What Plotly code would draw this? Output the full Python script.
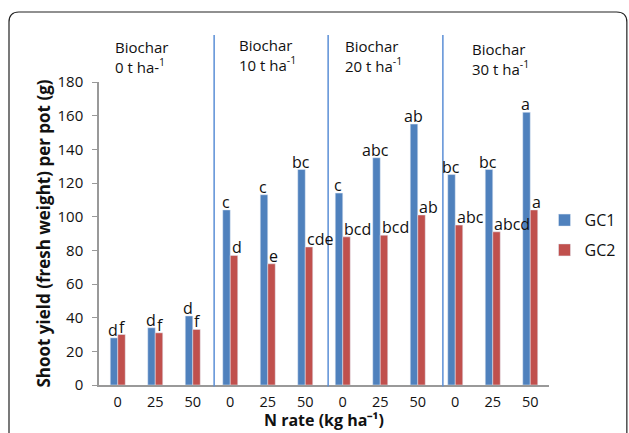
import plotly.graph_objects as go

# ---- data ----
n_rate = ["0", "25", "50"] * 4
gc1 = [28, 34, 41, 104, 113, 128, 114, 135, 155, 125, 128, 162]
gc2 = [30, 31, 33, 77, 72, 82, 88, 89, 101, 95, 91, 104]
gc1_letters = ["d", "d", "d", "c", "c", "bc", "c", "abc", "ab", "bc", "bc", "a"]
gc2_letters = ["f", "f", "f", "d", "e", "cde", "bcd", "bcd", "ab", "abc", "abcd", "a"]
group_labels = [
    "Biochar<br>0 t ha-<sup>1</sup>",
    "Biochar<br>10 t ha<sup>-1</sup>",
    "Biochar<br>20 t ha<sup>-1</sup>",
    "Biochar<br>30 t ha<sup>-1</sup>",
]
y_ticks = list(range(0, 181, 20))
x_title = "<b>N rate (kg ha⁻¹)</b>"
y_title = "<b>Shoot yield (fresh weight) per pot (g)</b>"

# ---- layout helpers (decoration positions) ----
label_x = [-0.13, 3.18, 6.01, 9.39]
label_y = [1.083, 1.09, 1.085, 1.075]
separator_x = [2.57, 5.61, 8.67]

BLUE = "#4F81BD"
RED = "#C0504D"
FONT = "Open Sans"

x = list(range(len(n_rate)))

fig = go.Figure()
fig.add_trace(go.Bar(x=x, y=gc1, name="GC1", marker_color=BLUE, width=0.2, offset=-0.2,
                     legendgroup="a"))
fig.add_trace(go.Bar(x=x, y=gc2, name="GC2", marker_color=RED, width=0.2, offset=0.0,
                     legendgroup="b"))

annotations = []
for xi, v, t in zip(x, gc1, gc1_letters):
    annotations.append(dict(x=xi - 0.12, y=v, text=t, showarrow=False, xanchor="center",
                            yanchor="bottom", yshift=-5, font=dict(family=FONT, size=16, color="#111")))
for xi, v, t in zip(x, gc2, gc2_letters):
    annotations.append(dict(x=xi - 0.02, y=v, text=t, showarrow=False, xanchor="left",
                            yanchor="bottom", yshift=-5, font=dict(family=FONT, size=16, color="#111")))
for gx, gy, t in zip(label_x, label_y, group_labels):
    annotations.append(dict(x=gx, y=gy, xref="x", yref="paper", text=t, showarrow=False,
                            xanchor="left", yanchor="middle", align="left",
                            font=dict(family=FONT, size=15, color="#111")))
# x-axis title
annotations.append(dict(x=0.5, y=-0.158, xref="paper", yref="paper", text=x_title,
                        showarrow=False, xanchor="center", yanchor="bottom",
                        font=dict(family=FONT, size=16, color="#111")))

shapes = []
for sx in separator_x:
    shapes.append(dict(type="line", xref="x", yref="paper", x0=sx, x1=sx, y0=-0.005, y1=1.155,
                       line=dict(color="#5B8FD6", width=1.5)))
# rounded frame
shapes.append(dict(type="path", xref="paper", yref="paper",
                   path="M -0.178,1.231 L 1.15,1.231 Q 1.173,1.231 1.173,1.198 L 1.173,-0.2 "
                        "M -0.2,-0.2 L -0.2,1.198 Q -0.2,1.231 -0.178,1.231",
                   line=dict(color="#222", width=1.2)))

fig.update_layout(
    width=629, height=433,
    margin=dict(l=99, r=80, t=82, b=48, autoexpand=False),
    paper_bgcolor="white", plot_bgcolor="white",
    font=dict(family=FONT, size=14, color="#111"),
    showlegend=True,
    legend=dict(x=0.99, y=0.6, xanchor="left", yanchor="top", tracegroupgap=6,
                traceorder="grouped", font=dict(family=FONT, size=16), itemwidth=30),
    annotations=annotations,
    shapes=shapes,
    bargap=0.6,
)
fig.update_xaxes(range=[-0.5, 11.5], tickvals=x, ticktext=n_rate, showline=True,
                 linecolor="#999", linewidth=1.5, showgrid=False, zeroline=False,
                 ticks="outside", ticklen=3, tickcolor="rgba(0,0,0,0)",
                 tickfont=dict(size=14.5))
fig.update_yaxes(range=[0, 180], tickvals=y_ticks, showline=True, linecolor="#999",
                 linewidth=1.5, showgrid=False, zeroline=False, ticks="outside", ticklen=5,
                 tickcolor="#999", tickfont=dict(size=15), ticklabelstandoff=6,
                 title=dict(text=y_title, standoff=3, font=dict(size=17)))

fig.write_html("out.html", config={"displayModeBar": False},
               post_script="document.body.style.margin='0';")
